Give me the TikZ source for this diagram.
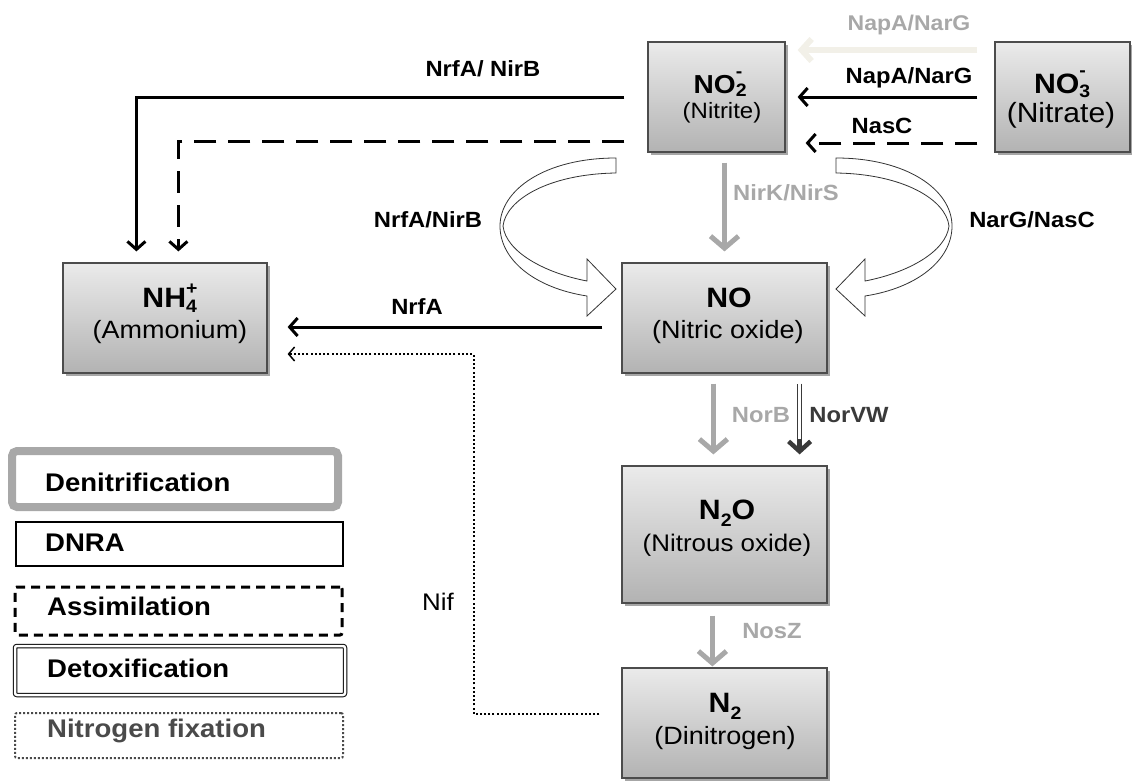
\documentclass[tikz,border=0pt]{standalone}
\usepackage{fontspec}
\setmainfont{Liberation Sans}[FakeStretch=1.08]
\usetikzlibrary{arrows.meta,shadows,calc}
\newcommand{\fsz}[2]{\fontsize{#1}{#2}\selectfont}
\newcommand{\subsup}[4]{\rlap{\smash{\raisebox{-#1}{\fsz{18}{18}#2}}}\smash{\raisebox{#4}{\fsz{18}{18}#3}}}
\newcommand{\lowsub}[1]{\smash{\raisebox{-0.27em}{\fsz{18}{18}#1}}}
\definecolor{lgray}{HTML}{A8A8A8}
\definecolor{faint}{HTML}{F2F0E8}
\definecolor{dgray}{HTML}{3A3A3A}
\definecolor{fixgray}{HTML}{4A4A4A}
\begin{document}
\begin{tikzpicture}[x=1pt,y=-1pt,
  box/.style={draw=black!70, line width=1.2pt, top color=black!8, bottom color=black!30,
    drop shadow={shadow xshift=2.5pt,shadow yshift=-2.5pt,opacity=0.35,fill=black},
    inner sep=0pt},
  ttl/.style={anchor=base, inner sep=0pt, font=\fsz{28}{28}\bfseries},
  subt/.style={anchor=base, inner sep=0pt, font=\fsz{25}{25}},
  lab/.style={anchor=base, inner sep=0pt, font=\fsz{22}{22}\bfseries},
  blk/.style={line width=3pt, -{Straight Barb[length=8pt,width=18pt]}},
  blkdash/.style={blk, dash pattern=on 22pt off 12pt},
  gry/.style={draw=lgray, line width=5pt, -{Straight Barb[length=12pt,width=28pt]}},
  nifline/.style={line width=2pt, dash pattern=on 2pt off 2.2pt, -{Straight Barb[length=6pt,width=14pt,line width=1.5pt]}},
  hollow/.style={draw=black!80, line width=0.8pt, fill=white},
  legt/.style={anchor=base west, inner sep=0pt, font=\fsz{25.5}{25.5}\bfseries},
  legbox/.style={inner sep=0pt, fill=white}
]
\useasboundingbox (0,0) rectangle (1132,780);

% ---------- boxes ----------
\node[box, minimum width=137pt, minimum height=110pt] (no2) at (716.5,97) {};
\node[box, minimum width=135pt, minimum height=110pt] (no3) at (1062.5,97) {};
\node[box, minimum width=204pt, minimum height=110pt] (nh4) at (165,318) {};
\node[box, minimum width=205pt, minimum height=110pt] (no) at (724.5,318) {};
\node[box, minimum width=205pt, minimum height=137pt] (n2o) at (724.5,534.5) {};
\node[box, minimum width=205pt, minimum height=110pt] (n2) at (724.5,723) {};

% ---------- box texts ----------
\node[ttl, font=\fsz{26}{26}\bfseries] (no2t) at (718,93) {NO\subsup{0.15em}{2}{-}{0.6em}};
\node[subt, font=\fsz{22.2}{22.2}] (no2s) at (722,118) {(Nitrite)};
\node[ttl] (no3t) at (1060,93) {NO\subsup{0.15em}{3}{-}{0.6em}};
\node[subt, font=\fsz{27.8}{27.8}] (no3s) at (1061,122) {(Nitrate)};
\node[ttl] (nh4t) at (170,307) {NH\subsup{0.2em}{4}{+}{0.45em}};
\node[subt] (nh4s) at (170,338) {(Ammonium)};
\node[ttl] (not) at (729,307) {NO};
\node[subt] (nos) at (728,338) {(Nitric oxide)};
\node[ttl] (n2ot) at (727,519) {N\lowsub{2}O};
\node[subt, font=\fsz{24}{24}] (n2os) at (727,551) {(Nitrous oxide)};
\node[ttl] (n2t) at (725,712) {N\lowsub{2}};
\node[subt] (n2s) at (725,744) {(Dinitrogen)};

% ---------- nitrate -> nitrite ----------
\draw[draw=faint, line width=6pt, -{Straight Barb[length=10pt,width=22pt]}]
  ($(no3.west)+(-17,-47)$) -- ($(no2.east)+(12,-47)$);
\draw[blk] ($(no3.west)+(-17,0)$) -- ($(no2.east)+(12,0)$);
\draw[blkdash] ($(no3.west)+(-17,46)$) -- ($(no2.east)+(20,46)$);
\node[lab, text=lgray, font=\fsz{21.3}{21.3}\bfseries] (lnap1) at (909,30) {NapA/NarG};
\node[lab] (lnap2) at (909,83) {NapA/NarG};
\node[lab] (lnasc) at (882,133) {NasC};

% ---------- nitrite -> ammonium ----------
\draw[blk] ($(no2.west)+(-23,0)$) -| ($(nh4.north west)+(74,-11)$);
\draw[blkdash] ($(no2.west)+(-23,44)$) -| ($(nh4.north west)+(116,-11)$);
\node[lab] (lnrf1) at (483,76) {NrfA/ NirB};

% ---------- nitrite -> NO ----------
\draw[gry] ($(no2.south -| no.north)+(0,10)$) -- ($(no.north)+(0,-11)$);
\node[lab, text=lgray] (lnir) at (786,200) {NirK/NirS};

% hollow curved arrows (detoxification)
\draw[hollow] (616,158) -- (616,173)
  .. controls (548,174) and (506,200) .. (503,226)
  .. controls (506,252) and (545,273) .. (587,281)
  -- (587,259) -- (616,289) -- (587,316) -- (587,296)
  .. controls (535,288) and (500,260) .. (500,226)
  .. controls (500,190) and (545,158) .. (616,158) -- cycle;
\draw[hollow] (836,158) -- (836,173)
  .. controls (904,174) and (946,200) .. (949,226)
  .. controls (946,252) and (907,273) .. (865,281)
  -- (865,259) -- (836,289) -- (865,316) -- (865,296)
  .. controls (917,288) and (952,260) .. (952,226)
  .. controls (952,190) and (907,158) .. (836,158) -- cycle;
\node[lab] (lnrf2) at (428,227) {NrfA/NirB};
\node[lab] (lnarg) at (1032,227) {NarG/NasC};

% ---------- NO -> ammonium ----------
\draw[blk] ($(no.west)+(-19,9)$) -- ($(nh4.east)+(20,9)$);
\node[lab] (lnrfa) at (417,314) {NrfA};

% ---------- NO -> N2O ----------
\draw[gry] ($(no.south west)+(92,10)$) -- ($(n2o.north west)+(92,-11)$);
\node[lab, text=lgray] (lnorb) at (761,422) {NorB};
\draw[draw=dgray, double=white, double distance=2.4pt, line width=1.5pt]
  ($(no.south east)+(-28,10)$) -- ($(n2o.north east)+(-28,-22)$);
\draw[draw=dgray, line width=4.5pt, -{Straight Barb[length=10pt,width=22pt]}]
  ($(n2o.north east)+(-28,-26)$) -- ($(n2o.north east)+(-28,-11)$);
\node[lab, text=dgray] (lnorv) at (849,422) {NorVW};

% ---------- N2O -> N2 ----------
\draw[gry] ($(n2o.south west)+(91,12)$) -- ($(n2.north west)+(91,-1)$);
\node[lab, text=lgray] (lnos) at (772,638) {NosZ};

% ---------- N2 -> ammonium (fixation) ----------
\coordinate (nifend) at ($(nh4.east)+(20,36)$);
\draw[nifline] ($(n2.west)+(-22,-9)$) -| ($(nifend)+(186,0)$) -- (nifend);
\node[anchor=base, inner sep=0pt, font=\fsz{24}{24}] (lnif) at (438,610) {Nif};

% ---------- legend ----------
\node[legbox, draw=lgray, line width=8pt, rounded corners=5pt, minimum width=326pt, minimum height=56pt] (lg1) at (175,479) {};
\node[legt] (lg1t) at (45,491) {Denitrification};
\node[legbox, draw=black, line width=2.5pt, minimum width=327pt, minimum height=44pt] (lg2) at (179.5,544) {};
\node[legt] (lg2t) at (45,551) {DNRA};
\node[legbox, draw=black, line width=3pt, dash pattern=on 9pt off 6pt, rounded corners=2pt, minimum width=327pt, minimum height=48pt] (lg3) at (178.5,611) {};
\node[legt] (lg3t) at (47,615) {Assimilation};
\node[legbox, draw=black, line width=1pt, double=white, double distance=2.5pt, rounded corners=2pt, minimum width=330pt, minimum height=49pt] (lg4) at (180,670.5) {};
\node[legt] (lg4t) at (47,677) {Detoxification};
\node[legbox, draw=fixgray, line width=2pt, dash pattern=on 2pt off 2pt, rounded corners=2pt, minimum width=328pt, minimum height=45pt] (lg5) at (179,735.5) {};
\node[legt, text=fixgray] (lg5t) at (47,737) {Nitrogen fixation};
\end{tikzpicture}
\end{document}
